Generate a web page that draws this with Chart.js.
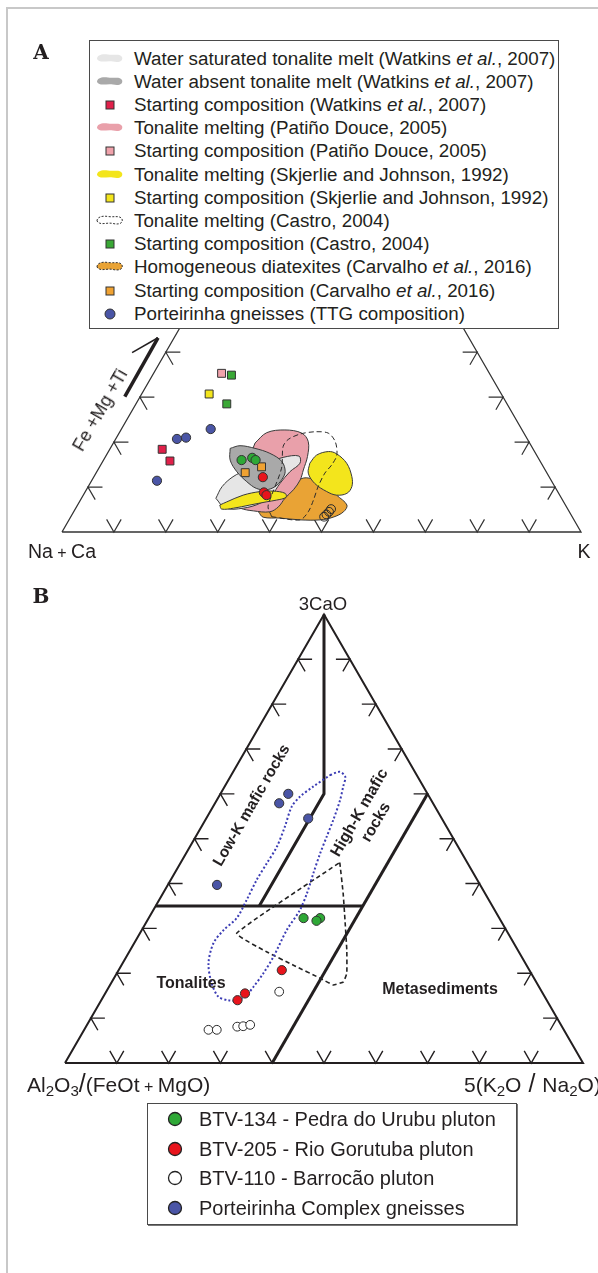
<!DOCTYPE html>
<html>
<head>
<meta charset="utf-8">
<script src="https://cdn.jsdelivr.net/npm/chart.js@4.4.1/dist/chart.umd.min.js"></script>
<style>
html,body{margin:0;padding:0;background:#fff;}
body{width:598px;height:1273px;position:relative;overflow:hidden;font-family:"Liberation Sans",Arial,sans-serif;color:#231f20;}
#frame{position:absolute;left:6px;top:7px;width:720px;height:1400px;border:2px solid #c8c8c8;}
.wrap{position:absolute;left:0;}
#wA{top:0;width:598px;height:600px;}
#wB{top:560px;width:598px;height:560px;}
.t{position:absolute;white-space:nowrap;line-height:1;}
.c{transform:translate(-50%,-50%);}
.panel{font-family:"DejaVu Serif",serif;font-weight:bold;font-size:20px;}
.rot{transform:translate(-50%,-50%) rotate(-60deg);}
.b{font-weight:bold;}
.leg{position:absolute;background:#fff;border:1.5px solid #4a4a4a;box-sizing:border-box;}
.row{position:absolute;white-space:nowrap;line-height:22px;height:22px;}
.sym{position:absolute;}
sub{font-size:0.72em;vertical-align:-0.25em;line-height:0;}
</style>
</head>
<body>
<div id="frame"></div>
<div class="wrap" id="wA"><canvas id="cA" width="598" height="600"></canvas></div>
<div class="wrap" id="wB"><canvas id="cB" width="598" height="560"></canvas></div>

<div class="t c panel" style="left:41px;top:52px;">A</div>
<div class="t c panel" style="left:41px;top:596px;">B</div>

<div class="t c" style="left:62px;top:552px;font-size:19.5px;">Na<span style="font-size:16px;"> + </span>Ca</div>
<div class="t c" style="left:584px;top:552px;font-size:19.5px;">K</div>
<div class="t rot" style="left:100px;top:410px;font-size:18px;">Fe +Mg +Ti</div>

<div class="t c" style="left:323px;top:604px;font-size:18.5px;">3CaO</div>
<div class="t" style="left:27px;top:1071px;font-size:21px;">Al<sub>2</sub>O<sub>3</sub><span style="font-size:25px;">/</span>(FeOt<span style="font-size:16px;"> + </span>MgO)</div>
<div class="t" style="left:464px;top:1071px;font-size:21px;">5(K<sub>2</sub>O<span style="font-size:25px;"> / </span>Na<sub>2</sub>O)</div>

<div class="t rot b" style="left:251px;top:805px;font-size:15.5px;">Low-K mafic rocks</div>
<div class="t rot b" style="left:367px;top:817px;font-size:16px;text-align:center;line-height:19px;">High-K mafic<br>rocks</div>
<div class="t c b" style="left:191px;top:983px;font-size:16px;">Tonalites</div>
<div class="t c b" style="left:440px;top:989px;font-size:16px;">Metasediments</div>

<div class="leg" id="legA" style="left:89px;top:40px;width:470px;height:289px;"></div>
<div class="leg" id="legB" style="left:147px;top:1103px;width:370px;height:122px;box-shadow:1px 1px 0 #777;"></div>

<script>
// ---------- Diagram A : (Fe+Mg+Ti) - (Na+Ca) - K ----------
// every composition is [top %, right %]  (top = Fe+Mg+Ti, right = K)
const waterSaturatedMelt = [[7.5,25.9],[10.1,25.8],[12.3,26.8],[13.8,28.7],[15.3,31.8],[16.6,34.3],[16.9,37.2],[15.3,38.2],[13.4,37.2],[10.8,36.6],[8.2,36.3],[6.4,35.0],[5.3,32.3],[5.3,28.8]];
const waterAbsentMelt = [[18.6,23.1],[19.2,24.7],[18.6,27.9],[17.5,31.3],[15.7,34.5],[13.4,36.3],[11.6,36.5],[10.1,36.0],[9.4,34.7],[9.7,32.6],[11.2,30.0],[13.4,27.0],[16.0,24.4]];
const patinoMelting = [[19.8,27.3],[22.1,28.4],[22.7,31.6],[22.0,35.2],[20.1,37.4],[16.8,38.9],[13.8,39.6],[11.6,40.1],[9.4,39.9],[7.5,39.2],[5.6,38.9],[4.5,37.8],[4.7,34.5],[5.3,31.7],[6.4,29.8],[16.8,27.8]];
const skjerlieMeltingA = [[6.0,27.4],[6.7,28.4],[8.2,30.8],[9.0,33.7],[9.1,36.2],[8.6,38.7],[7.7,39.3],[7.1,37.8],[6.7,36.0],[6.0,33.2],[5.3,30.4],[5.1,28.2]];
const skjerlieMeltingB = [[15.3,40.1],[17.1,40.5],[17.9,42.4],[17.4,44.2],[15.3,47.2],[12.3,49.7],[10.1,50.8],[8.6,50.6],[8.2,48.8],[9.0,46.5],[10.8,43.3],[13.1,40.9]];
const castroMelting = [[3.4,38.7],[5.6,36.9],[8.2,36.3],[14.2,35.2],[19.0,33.1],[20.6,33.3],[21.8,35.0],[22.3,37.6],[22.0,40.3],[20.1,42.6],[17.1,44.4],[14.9,44.5],[13.1,44.1],[10.1,44.3],[7.1,44.9],[4.5,45.2],[2.7,44.5]];
const carvalhoDiatexites = [[4.5,35.6],[7.1,35.9],[10.1,38.2],[12.0,40.5],[11.6,42.9],[10.1,46.0],[8.2,48.8],[6.0,51.9],[4.5,52.0],[3.3,50.6],[2.7,48.4],[2.7,44.5],[3.1,40.4],[3.3,37.1]];

const watkinsStart = [[18.4,10.1],[15.8,12.9]];
const patinoStart = [[35.3,13.1]];
const skjerlieStart = [[30.7,13.0]];
const castroStart = [[34.9,15.2],[28.5,17.5]];
const carvalhoStart = [[13.2,28.7],[14.5,31.2]];
const porteirinhaA = [[22.9,17.2],[20.7,11.8],[21.0,13.4],[11.4,12.6]];
const pedraUrubuA = [[16.0,26.6],[16.5,28.4],[16.0,29.3]];
const rioGorutubaA = [[12.2,32.6],[8.8,34.5],[8.2,35.3]];
const barrocaoA = [[3.4,48.8],[3.9,49.0],[4.5,49.2],[5.1,49.3]];
const feMgTiArrow = [[30.1,-2.95],[43.2,-3.1]];
const feMgTiArrowHead = [[43.2,-3.1],[39.9,-6.45]];

// ---------- Diagram B : 3CaO - Al2O3/(FeOt+MgO) - 5(K2O/Na2O) ----------
// [top %, right %]  (top = 3CaO, right = 5(K2O/Na2O))
const pedraUrubuB = [[32.3,29.9],[32.3,33.1],[31.7,32.7]];
const rioGorutubaB = [[20.7,31.5],[15.5,27.0],[14.0,26.3]];
const barrocaoB = [[15.9,33.4],[7.4,24.0],[7.4,25.6],[8.1,29.2],[8.2,30.3],[8.5,31.5]];
const porteirinhaB = [[60.0,13.1],[57.9,12.4],[54.5,19.7],[39.7,9.5]];
const gneissField = [[64.2,19.1],[64.9,20.6],[63.8,22.2],[61.6,22.9],[58.6,23.8],[54.2,24.7],[50.4,25.3],[46.7,25.9],[42.3,26.8],[37.8,27.8],[34.1,28.3],[29.6,28.0],[23.7,28.4],[20.0,28.3],[17.0,27.9],[15.2,27.5],[14.0,26.5],[14.0,24.5],[14.8,22.2],[17.8,19.4],[22.2,16.6],[26.7,15.3],[29.6,15.8],[32.3,17.0],[36.3,16.9],[40.8,16.6],[44.5,16.7],[48.2,16.8],[52.7,16.1],[57.1,15.2],[59.4,15.7],[61.6,17.1]];
const graniteField = [[44.7,30.7],[37.8,34.8],[31.9,38.1],[25.2,41.8],[20.0,44.4],[18.1,44.7],[17.4,43.1],[18.9,39.8],[21.8,33.2],[24.8,26.5],[28.9,18.7]];
const mafikDivide = [[100,0],[60,20],[35,20]];
const tonaliteTop = [[35,0],[35,40]];
const metasedimentDivide = [[0,40],[60,40]];

// ---------- helpers ----------
const toXY = p => ({x: p[1] + p[0] / 2, y: p[0]});
const pts = list => list.map(toXY);
const loop = list => pts(list.concat([list[0]]));
const frameLine = () => [{x:0,y:0},{x:100,y:0},{x:50,y:100},{x:0,y:0}];
function tickMarks(t) {
  const out = [];
  const gap = {x:null, y:null};
  for (let i = 1; i < 10; i++) {
    const p = i * 10;
    out.push({x:p - t/2, y:t}, {x:p, y:0}, {x:p + t/2, y:t}, gap);
    const lx = p / 2;
    out.push({x:lx + t, y:p}, {x:lx, y:p}, {x:lx + t/2, y:p - t}, gap);
    const rx = 100 - p / 2;
    out.push({x:rx - t, y:p}, {x:rx, y:p}, {x:rx - t/2, y:p - t}, gap);
  }
  return out;
}
const poly = (data, fillColor, order, extra) => Object.assign({
  data: loop(data), showLine: true, fill: 'shape', backgroundColor: fillColor,
  borderColor: '#3a3a3a', borderWidth: 1, tension: 0.35, pointRadius: 0, order, clip: false
}, extra || {});
const line = (data, width, order, extra) => Object.assign({
  data, showLine: true, fill: false, borderColor: '#231f20', borderWidth: width,
  pointRadius: 0, tension: 0, order, clip: false
}, extra || {});
const marks = (data, style, radius, color, order, border) => ({
  data: pts(data), showLine: false, pointStyle: style, pointRadius: radius,
  pointBackgroundColor: color, pointBorderColor: border || '#333', pointBorderWidth: 1, order, clip: false
});
const baseOptions = pad => ({
  responsive: false, animation: false, events: [],
  layout: {padding: pad},
  scales: {
    x: {type: 'linear', min: 0, max: 100, display: false},
    y: {type: 'linear', min: 0, max: 100, display: false}
  },
  plugins: {legend: {display: false}, tooltip: {enabled: false}}
});

// ---------- chart A ----------
new Chart(document.getElementById('cA'), {
  type: 'scatter',
  data: {datasets: [
    line(frameLine(), 1.3, 60, {borderColor: '#333'}),
    line(tickMarks(2.8), 1.2, 60, {borderColor: '#333'}),
    poly(carvalhoDiatexites, '#e9a335', 48),
    poly(patinoMelting, '#e9a0aa', 47),
    poly(waterSaturatedMelt, '#e6e6e6', 46),
    poly(skjerlieMeltingB, '#f3e51c', 45),
    poly(skjerlieMeltingA, '#f3e51c', 44),
    poly(waterAbsentMelt, '#a9a9a9', 43),
    poly(castroMelting, 'rgba(0,0,0,0)', 42, {borderDash: [5, 3], borderColor: '#2a2a2a', fill: false, tension: 0.3}),
    line(pts(feMgTiArrow), 3.5, 30),
    line(pts(feMgTiArrowHead), 1.6, 30),
    marks(watkinsStart, 'rect', 5.6, '#e0204a', 10),
    marks(patinoStart, 'rect', 5.6, '#f0a2ab', 10),
    marks(skjerlieStart, 'rect', 5.6, '#f3e51c', 10),
    marks(castroStart, 'rect', 5.6, '#3aa836', 10),
    marks(carvalhoStart, 'rect', 5.6, '#f0a232', 9),
    marks(porteirinhaA, 'circle', 4.6, '#4a55a6', 10),
    marks(pedraUrubuA, 'circle', 4.6, '#2ea836', 8),
    marks(rioGorutubaA, 'circle', 4.6, '#e8141c', 8),
    marks(barrocaoA, 'circle', 4.4, 'rgba(0,0,0,0)', 8, '#2a2a2a')
  ]},
  options: baseOptions({left: 62, right: 17, top: 82.5, bottom: 68})
});

// ---------- chart B ----------
new Chart(document.getElementById('cB'), {
  type: 'scatter',
  data: {datasets: [
    line(frameLine(), 2, 60),
    line(tickMarks(2.7), 1.4, 60),
    line(pts(mafikDivide), 3, 55),
    line(pts(tonaliteTop), 3, 55),
    line(pts(metasedimentDivide), 3, 55),
    poly(gneissField, 'rgba(0,0,0,0)', 40, {borderDash: [2, 2.2], borderColor: '#3b3cb4', borderWidth: 2, fill: false, tension: 0.3}),
    poly(graniteField, 'rgba(0,0,0,0)', 41, {borderDash: [4.5, 3], borderColor: '#222', borderWidth: 1.6, fill: false, tension: 0.1}),
    marks(porteirinhaB, 'circle', 4.6, '#4a55a6', 10),
    marks(pedraUrubuB, 'circle', 4.6, '#2ea836', 10),
    marks(rioGorutubaB, 'circle', 4.6, '#e8141c', 10),
    marks(barrocaoB, 'circle', 4.4, '#fff', 10, '#2a2a2a')
  ]},
  options: baseOptions({left: 65, right: 15, top: 54.4, bottom: 57})
});

// ---------- legends ----------
const blobPath = 'M2,7 C2,3 7,1.5 13,2.5 C19,3.5 25,1 27,5 C28.5,9 24,11 18,9.5 C12,8 5,12 2,7Z';
const legendA = [
  ['blob', '#e6e6e6', 'none', 'Water saturated tonalite melt (Watkins <i>et al.</i>, 2007)'],
  ['blob', '#a9a9a9', 'none', 'Water absent tonalite melt (Watkins <i>et al.</i>, 2007)'],
  ['rect', '#e0204a', '#333', 'Starting composition (Watkins <i>et al.</i>, 2007)'],
  ['blob', '#e9a0aa', 'none', 'Tonalite melting (Patiño Douce, 2005)'],
  ['rect', '#f0a2ab', '#333', 'Starting composition (Patiño Douce, 2005)'],
  ['blob', '#f3e51c', 'none', 'Tonalite melting (Skjerlie and Johnson, 1992)'],
  ['rect', '#f3e51c', '#333', 'Starting composition (Skjerlie and Johnson, 1992)'],
  ['dash', '#fff', '#333', 'Tonalite melting (Castro, 2004)'],
  ['rect', '#3aa836', '#333', 'Starting composition (Castro, 2004)'],
  ['dashfill', '#e9a335', '#333', 'Homogeneous diatexites (Carvalho <i>et al.</i>, 2016)'],
  ['rect', '#f0a232', '#333', 'Starting composition (Carvalho <i>et al.</i>, 2016)'],
  ['circle', '#4a55a6', '#333', 'Porteirinha gneisses (TTG composition)']
];
const legendB = [
  ['#2ea836', 'BTV-134 - Pedra do Urubu pluton'],
  ['#e8141c', 'BTV-205 - Rio Gorutuba pluton'],
  ['#fff', 'BTV-110 - Barrocão pluton'],
  ['#4a55a6', 'Porteirinha Complex gneisses']
];
function symbolA(kind, fillC, strokeC) {
  if (kind === 'rect') return `<svg width="30" height="14"><rect x="11" y="3" width="8" height="8" fill="${fillC}" stroke="${strokeC}" stroke-width="1"/></svg>`;
  if (kind === 'circle') return `<svg width="30" height="14"><circle cx="15" cy="7" r="5" fill="${fillC}" stroke="${strokeC}" stroke-width="1"/></svg>`;
  const dash = (kind === 'dash' || kind === 'dashfill') ? 'stroke-dasharray="2,1.5"' : '';
  const sw = strokeC === 'none' ? 0 : 1;
  return `<svg width="30" height="14"><path d="${blobPath}" fill="${fillC}" stroke="${strokeC}" stroke-width="${sw}" ${dash}/></svg>`;
}
const legA = document.getElementById('legA');
legendA.forEach((e, i) => {
  const cy = 58 + i * 23.2 - 40;
  const s = document.createElement('div');
  s.className = 'sym';
  s.style.left = '5px'; s.style.top = (cy - 7.5) + 'px';
  s.innerHTML = symbolA(e[0], e[1], e[2]);
  legA.appendChild(s);
  const r = document.createElement('div');
  r.className = 'row';
  r.style.left = '44px'; r.style.top = (cy - 11.5) + 'px'; r.style.fontSize = '18.8px';
  r.innerHTML = e[3];
  legA.appendChild(r);
});
const legB = document.getElementById('legB');
legendB.forEach((e, i) => {
  const cy = 1118 + i * 29.7 - 1103;
  const s = document.createElement('div');
  s.className = 'sym';
  s.style.left = '19px'; s.style.top = (cy - 8) + 'px';
  s.innerHTML = `<svg width="16" height="16"><circle cx="8" cy="8" r="6.5" fill="${e[0]}" stroke="#222" stroke-width="1.3"/></svg>`;
  legB.appendChild(s);
  const r = document.createElement('div');
  r.className = 'row';
  r.style.left = '51px'; r.style.top = (cy - 12) + 'px'; r.style.fontSize = '20px';
  r.style.lineHeight = '24px'; r.style.height = '24px';
  r.textContent = e[1];
  legB.appendChild(r);
});
</script>
</body>
</html>
